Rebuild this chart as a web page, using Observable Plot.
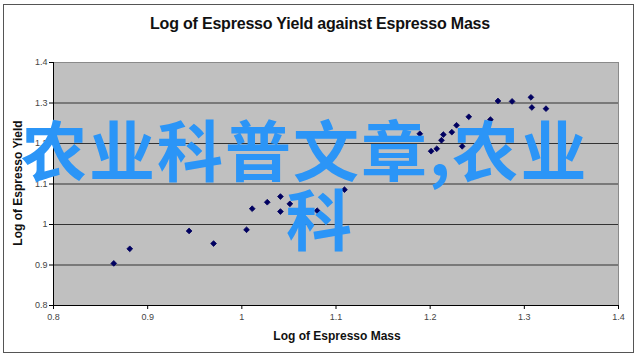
<!DOCTYPE html>
<html>
<head>
<meta charset="utf-8">
<script src="https://cdn.jsdelivr.net/npm/d3@7"></script>
<script src="https://cdn.jsdelivr.net/npm/@observablehq/plot@0.6"></script>
<style>
  html, body { margin: 0; padding: 0; background: #fff; }
  #wrap { position: relative; width: 640px; height: 359px; overflow: hidden; background: #fff; font-family: "Liberation Sans", Arial, sans-serif; }
  #border { position: absolute; left: 3px; top: 4px; width: 631px; height: 349px; border: 1px solid #555; box-sizing: border-box; }
  #chart { position: absolute; left: 0; top: 0; }
  .title { position: absolute; left: 0; width: 640px; top: 15px; text-align: center; font-weight: bold; font-size: 16px; color: #111; letter-spacing: -0.2px; }
  .xlabel { position: absolute; left: 237px; width: 200px; top: 329px; text-align: center; font-weight: bold; font-size: 12px; color: #111; }
  .ylabel { position: absolute; left: 18px; top: 183px; transform: translate(-50%, -50%) rotate(-90deg); white-space: nowrap; font-weight: bold; font-size: 12px; color: #111; }
  .cn { position: absolute; font-family: "Noto Sans CJK SC", sans-serif; font-weight: bold; font-size: 66px; line-height: 66px; color: #2b95f7; white-space: nowrap; letter-spacing: 2px; }
</style>
</head>
<body>
<div id="wrap">
  <div id="border"></div>
  <div id="chart"></div>
  <div class="title">Log of Espresso Yield against Espresso Mass</div>
  <div class="xlabel">Log of Espresso Mass</div>
  <div class="ylabel">Log of Espresso Yield</div>
  <div class="cn" id="cn1" style="left:21px; top:114px;">农业科普文章,农业</div>
  <div class="cn" id="cn2" style="left:286px; top:183px;">科</div>
</div>
<script>
const xTicks = [0.8, 0.9, 1, 1.1, 1.2, 1.3, 1.4];
const yTicks = [0.8, 0.9, 1, 1.1, 1.2, 1.3, 1.4];
const gridValues = [0.9, 1, 1.1, 1.2, 1.3];
const massLog  = [0.864, 0.881, 0.944, 0.970, 1.005, 1.011, 1.027, 1.041, 1.041, 1.051, 1.080, 1.109,
                  1.189, 1.201, 1.207, 1.212, 1.214, 1.223, 1.228, 1.234, 1.241, 1.264, 1.272, 1.287, 1.307, 1.308, 1.323];
const yieldLog = [0.904, 0.940, 0.984, 0.953, 0.987, 1.039, 1.055, 1.069, 1.032, 1.051, 1.034, 1.086,
                  1.224, 1.181, 1.187, 1.208, 1.222, 1.228, 1.245, 1.193, 1.266, 1.259, 1.305, 1.304, 1.314, 1.289, 1.286];

const points = massLog.map((m, i) => ({mass: m, yield: yieldLog[i]}));

const chart = Plot.plot({
  width: 640,
  height: 359,
  marginLeft: 53,
  marginRight: 22,
  marginTop: 62,
  marginBottom: 54,
  x: {domain: [0.8, 1.4], label: null},
  y: {domain: [0.8, 1.4], label: null},
  style: {fontFamily: "'Liberation Sans', Arial, sans-serif", color: "#333", background: "transparent", overflow: "visible"},
  marks: [
    Plot.frame({fill: "#c0c0c0", stroke: "#8a8a8a"}),
    Plot.ruleY(gridValues, {stroke: "#333", strokeWidth: 1}),
    Plot.ruleX([0.8], {stroke: "#000"}),
    Plot.ruleY([0.8], {stroke: "#000"}),
    Plot.axisX(xTicks, {tickSize: 4, tickPadding: 4, fontSize: 9, tickFormat: d => String(d), stroke: "#000", fill: "#444"}),
    Plot.axisY(yTicks, {tickSize: 4, tickPadding: 2, fontSize: 9, tickFormat: d => String(d), stroke: "#000", fill: "#444"}),
    Plot.dot(points, {x: "mass", y: "yield", symbol: "diamond2", r: 2.6, fill: "#000060", stroke: "#000060", strokeWidth: 0.8})
  ]
});
document.getElementById("chart").appendChild(chart);
</script>
</body>
</html>
